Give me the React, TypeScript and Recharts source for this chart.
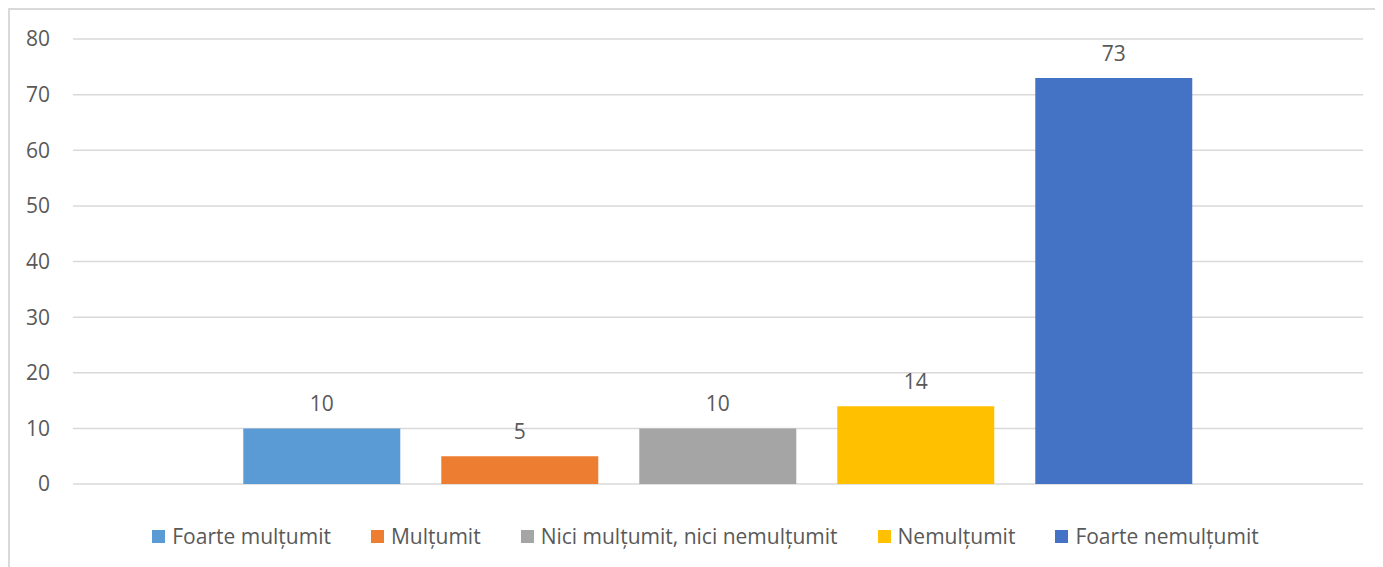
import React from 'react';
import { BarChart, Bar, XAxis, YAxis, CartesianGrid, Legend, LabelList } from 'recharts';

const categories = ['Foarte mulțumit', 'Mulțumit', 'Nici mulțumit, nici nemulțumit', 'Nemulțumit', 'Foarte nemulțumit'];
const values = [10, 5, 10, 14, 73];
const colors = ['#5B9BD5', '#ED7D31', '#A5A5A5', '#FFC000', '#4472C4'];
const yTicks = [0, 10, 20, 30, 40, 50, 60, 70, 80];

const FONT = '"Open Sans", "Noto Sans", sans-serif';
const TEXT = '#595959';

const keys = categories.map((_, i) => `s${i}`);
const row: Record<string, number | string> = { name: '' };
keys.forEach((k, i) => { row[k] = values[i]; });
const data = [row];

// legend is drawn by hand so the spacing matches Excel's
const LegendContent = () => (
    <div style={{ height: 83, display: 'flex', justifyContent: 'center', alignItems: 'flex-start', paddingTop: 40, paddingLeft: 38, boxSizing: 'border-box', fontFamily: FONT }}>
        {categories.map((c, i) => (
            <div key={c} style={{ display: 'flex', alignItems: 'center', marginRight: i < categories.length - 1 ? 40 : 0, lineHeight: '24px' }}>
                <span style={{ width: 13, height: 13, background: colors[i], display: 'inline-block', marginRight: 7 }} />
                <span style={{ color: TEXT, fontSize: 21 }}>{c}</span>
            </div>
        ))}
    </div>
);

export default function App() {
    return (
        <div style={{ width: 1380, height: 570, borderTop: '2px solid #d9d9d9', borderLeft: '2px solid #d9d9d9', background: '#fff' }}>
            <BarChart
                width={1373}
                height={557}
                data={data}
                margin={{ top: 29, right: 20, left: 0, bottom: 0 }}
                barCategoryGap="13.2%"
                barGap={41}
            >
                <CartesianGrid vertical={false} stroke="#d9d9d9" strokeWidth={1.5} />
                <XAxis dataKey="name" hide />
                <YAxis
                    domain={[0, 80]}
                    ticks={yTicks}
                    width={63}
                    axisLine={false}
                    tickLine={false}
                    tickMargin={17}
                    tick={{ fill: TEXT, fontSize: 21, fontFamily: FONT }}
                />
                <Legend verticalAlign="bottom" height={83} content={<LegendContent />} />
                {keys.map((k, i) => (
                    <Bar key={k} dataKey={k} name={categories[i]} fill={colors[i]} isAnimationActive={false}>
                        <LabelList dataKey={k} position="top" offset={17} fill={TEXT} fontSize={21} fontFamily={FONT} />
                    </Bar>
                ))}
            </BarChart>
        </div>
    );
}
